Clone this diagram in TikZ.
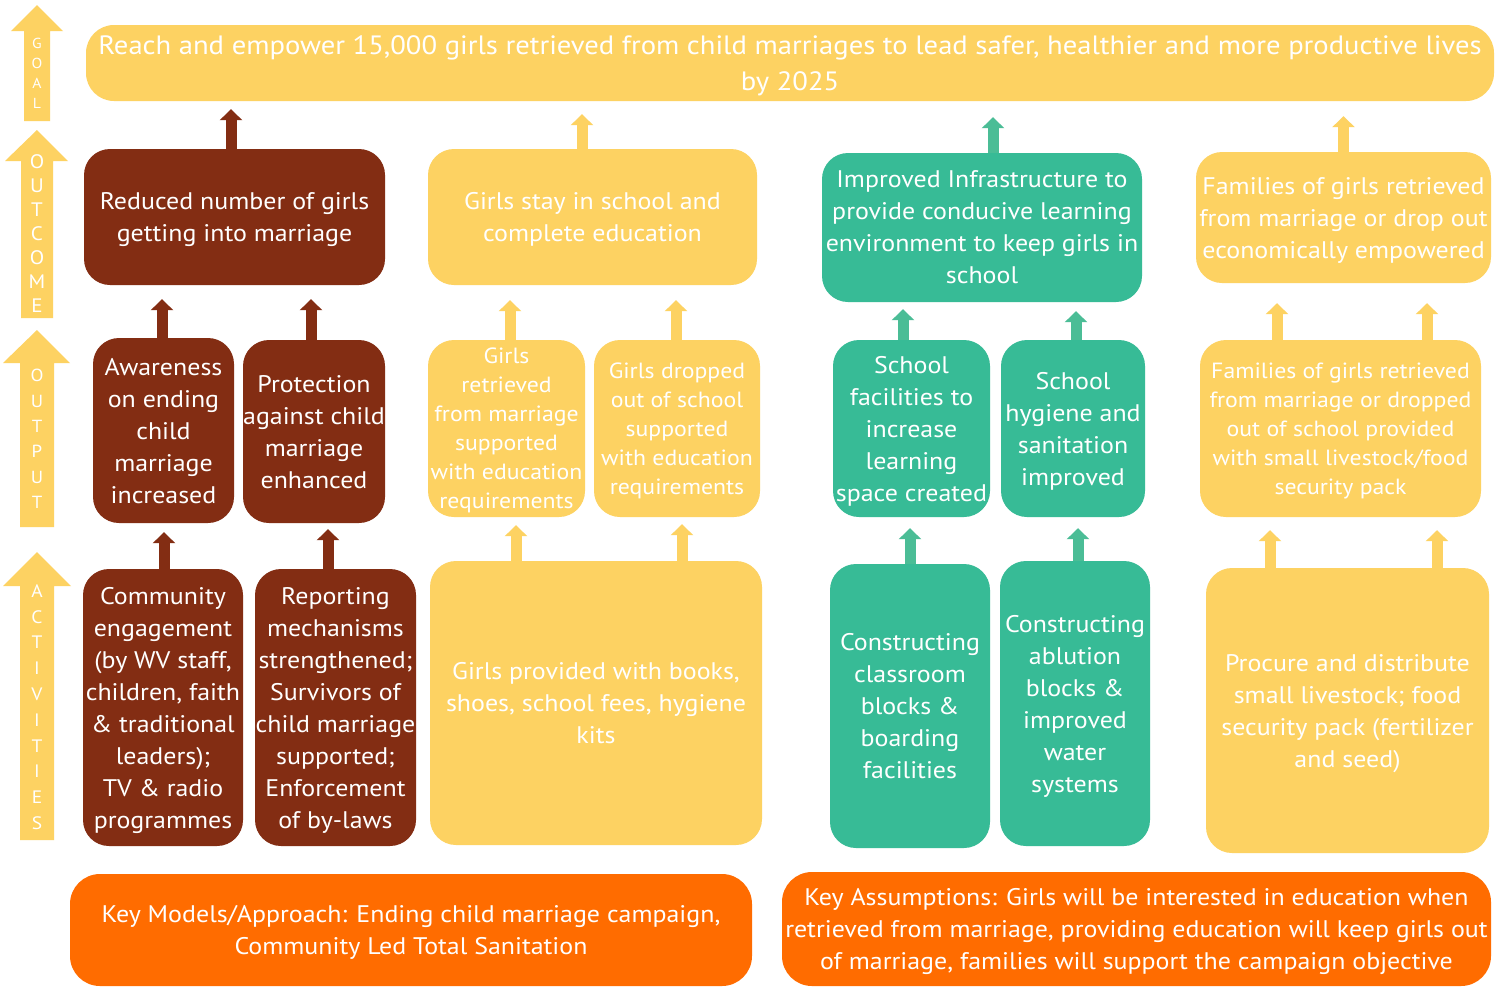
\documentclass[tikz,border=0pt]{standalone}
\usepackage{fontspec}
\setmainfont{PT Sans}[FakeStretch=1.08]
\usetikzlibrary{arrows.meta}
\definecolor{cyel}{HTML}{FDD262}
\definecolor{cbrn}{HTML}{832D13}
\definecolor{cteal}{HTML}{37BB96}
\definecolor{ctealarr}{HTML}{4BBD96}
\definecolor{corg}{HTML}{FF6C00}
\newcommand\myarr[5]{\draw[barr,draw=#1,shorten >=#5pt] ([xshift=#3pt]#2.north) -- ([xshift=#3pt]#2.north |- #4.south);}
\begin{document}
\begin{tikzpicture}[x=1pt,y=-1pt,
  box/.style={rounded corners=26pt, inner sep=0pt, align=center, text=white, text depth=0pt, font={\fontsize{24}{32}\selectfont}},
  smalltxt/.style={font={\fontsize{22}{29}\selectfont}},
  barr/.style={line width=11pt, -{Triangle[width=22pt,length=11pt]}},
  sidel/.style={text=white, align=center, inner sep=0pt}]
\useasboundingbox (0,0) rectangle (1506,986);
\fill[white] (0,0) rectangle (1506,986);
% side arrows
\fill[cyel] (37,5) -- (63,31) -- (50,31) -- (50,121) -- (24,121) -- (24,31) -- (11,31) -- cycle;
\fill[cyel] (37,130) -- (68,161) -- (53,161) -- (53,318) -- (21,318) -- (21,161) -- (5,161) -- cycle;
\fill[cyel] (37,330) -- (70,363) -- (54,363) -- (54,527) -- (20,527) -- (20,363) -- (3,363) -- cycle;
\fill[cyel] (37,552) -- (71,586) -- (54,586) -- (54,840) -- (20,840) -- (20,586) -- (3,586) -- cycle;
\node[sidel, font={\fontsize{14.5}{20}\selectfont}] (lgoal) at (37,73) {G\\O\\A\\L};
\node[sidel, font={\fontsize{19.5}{24}\selectfont}] (loutc) at (37,234) {O\\U\\T\\C\\O\\M\\E};
\node[sidel, font={\fontsize{17.5}{25.4}\selectfont}] (loutp) at (37,439) {O\\U\\T\\P\\U\\T};
\node[sidel, font={\fontsize{18}{25.8}\selectfont}] (lact) at (37,707) {A\\C\\T\\I\\V\\I\\T\\I\\E\\S};
% goal
\node[box, rounded corners=28pt, fill=cyel, minimum width=1408pt, minimum height=76pt, font={\fontsize{26.5}{36}\selectfont}] (goal) at (790,63)
  {Reach and empower 15,000 girls retrieved from child marriages to lead safer, healthier and more productive lives\\by 2025};
% outcomes
\node[box, fill=cbrn, minimum width=301pt, minimum height=136pt] (reduced) at (234.5,217) {Reduced number of girls\\getting into marriage};
\node[box, fill=cyel, minimum width=329pt, minimum height=136pt] (stay) at (592.5,217) {Girls stay in school and\\complete education};
\node[box, fill=cteal, minimum width=320pt, minimum height=149pt] (infra) at (982,227.5) {Improved Infrastructure to\\provide conducive learning\\environment to keep girls in\\school};
\node[box, fill=cyel, minimum width=295pt, minimum height=131pt] (famout) at (1343.5,217.5) {Families of girls retrieved\\from marriage or drop out\\economically empowered};
% outputs
\node[box, fill=cbrn, minimum width=141pt, minimum height=185pt] (aware) at (163.5,430.5) {Awareness\\on ending\\child\\marriage\\increased};
\node[box, fill=cbrn, minimum width=142pt, minimum height=183pt] (protect) at (314,431.5) {Protection\\against child\\marriage\\enhanced};
\node[box, smalltxt, fill=cyel, minimum width=157pt, minimum height=177pt] (gretr) at (506.5,428.5) {Girls\\retrieved\\from marriage\\supported\\with education\\requirements};
\node[box, smalltxt, fill=cyel, minimum width=166pt, minimum height=177pt] (gdrop) at (677,428.5) {Girls dropped\\out of school\\supported\\with education\\requirements};
\node[box, fill=cteal, minimum width=157pt, minimum height=177pt] (sfac) at (911.5,428.5) {School\\facilities to\\increase\\learning\\space created};
\node[box, fill=cteal, minimum width=144pt, minimum height=177pt] (shyg) at (1073,428.5) {School\\hygiene and\\sanitation\\improved};
\node[box, smalltxt, fill=cyel, minimum width=281pt, minimum height=177pt] (famoutp) at (1340.5,428.5) {Families of girls retrieved\\from marriage or dropped\\out of school provided\\with small livestock/food\\security pack};
% activities
\node[box, fill=cbrn, minimum width=160pt, minimum height=277pt] (comm) at (163,707.5) {Community\\engagement\\(by WV staff,\\children, faith\\\& traditional\\leaders);\\TV \& radio\\programmes};
\node[box, fill=cbrn, minimum width=161pt, minimum height=277pt] (report) at (335.5,707.5) {Reporting\\mechanisms\\strengthened;\\Survivors of\\child marriage\\supported;\\Enforcement\\of by-laws};
\node[box, fill=cyel, minimum width=332pt, minimum height=284pt] (gprov) at (596,703) {Girls provided with books,\\shoes, school fees, hygiene\\kits};
\node[box, fill=cteal, minimum width=160pt, minimum height=284pt] (constr1) at (910,706) {Constructing\\classroom\\blocks \&\\boarding\\facilities};
\node[box, fill=cteal, minimum width=150pt, minimum height=285pt] (constr2) at (1075,703.5) {Constructing\\ablution\\blocks \&\\improved\\water\\systems};
\node[box, fill=cyel, minimum width=283pt, minimum height=285pt] (procure) at (1347.5,710.5) {Procure and distribute\\small livestock; food\\security pack (fertilizer\\and seed)};
% bottom
\node[box, rounded corners=30pt, fill=corg, minimum width=682pt, minimum height=112pt] (keymod) at (411,930) {Key Models/Approach: Ending child marriage campaign,\\Community Led Total Sanitation};
\node[box, rounded corners=30pt, fill=corg, minimum width=709pt, minimum height=114pt] (keyass) at (1136.5,929) {Key Assumptions: Girls will be interested in education when\\retrieved from marriage, providing education will keep girls out\\of marriage, families will support the campaign objective};
% arrows
\myarr{cbrn}{reduced}{-3.5}{goal}{8}
\myarr{cyel}{stay}{-10.5}{goal}{13}
\myarr{ctealarr}{infra}{11}{goal}{16}
\myarr{cyel}{famout}{0}{goal}{15}
\myarr{cbrn}{aware}{-1.5}{reduced}{14}
\myarr{cbrn}{protect}{-3}{reduced}{14}
\myarr{cyel}{gretr}{3.5}{stay}{15}
\myarr{cyel}{gdrop}{-1}{stay}{15}
\myarr{ctealarr}{sfac}{-8.5}{infra}{7}
\myarr{ctealarr}{shyg}{3}{infra}{9}
\myarr{cyel}{famoutp}{-63.5}{famout}{20}
\myarr{cyel}{famoutp}{86.5}{famout}{20}
\myarr{cbrn}{comm}{1}{aware}{9}
\myarr{cbrn}{report}{-7.5}{protect}{6}
\myarr{cyel}{gprov}{-80}{gretr}{8}
\myarr{cyel}{gprov}{86}{gdrop}{7}
\myarr{ctealarr}{constr1}{0}{sfac}{11}
\myarr{ctealarr}{constr2}{3}{shyg}{11}
\myarr{cyel}{procure}{-77.5}{famoutp}{13}
\myarr{cyel}{procure}{89.5}{famoutp}{13}
\end{tikzpicture}
\end{document}
